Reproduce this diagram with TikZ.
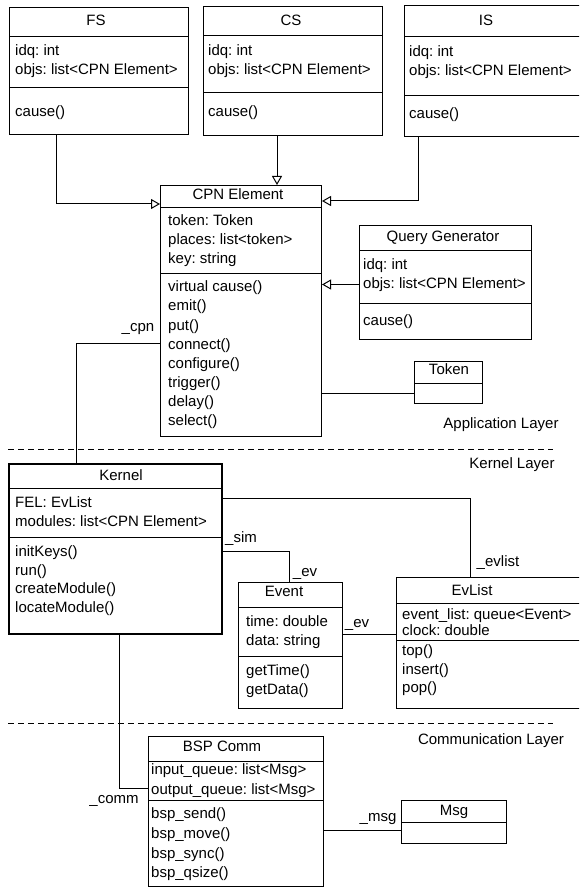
\documentclass[tikz,border=0pt]{standalone}
\usepackage{fontspec}
\setmainfont{Liberation Sans}
\frenchspacing
\usetikzlibrary{arrows.meta}

\begin{document}
\begin{tikzpicture}[
  x=1pt,
  y=-1pt,
  font=\fontsize{15}{19}\selectfont
]

  \tikzstyle{classbox}=[draw,rectangle,line width=1pt,anchor=north west,inner sep=0pt]
  \tikzstyle{kernelbox}=[classbox,line width=2pt]
  \tikzstyle{classname}=[inner sep=0pt,text height=11pt,text depth=3.5pt]
  \tikzstyle{member}=[anchor=west,inner sep=0pt,text height=11pt,text depth=3.5pt]
  \tikzstyle{divider}=[line width=1pt]
  \tikzstyle{assoc}=[draw,line width=1pt]
  \tikzstyle{inherit}=[draw,line width=1pt,-{Triangle[open,length=9pt,width=10pt]}]
  \tikzstyle{rolelab}=[inner sep=0pt,text height=11pt,text depth=3.5pt]
  \tikzstyle{layerline}=[draw,line width=1pt,dash pattern=on 6pt off 4pt]
  \tikzstyle{layerlab}=[inner sep=0pt,text height=11pt,text depth=3.5pt]

  \useasboundingbox (0,0) rectangle (579,890);
  \clip (0,0) rectangle (579,890);

  % FS
  \node[classbox,minimum width=179,minimum height=127] (fs) at (9,7) {};
  \node[classname] (fs-t) at (96,22) {FS};
  \draw[divider] ([yshift=-30pt]fs.north west) -- ([yshift=-30pt]fs.north east);
  \draw[divider] ([yshift=-81pt]fs.north west) -- ([yshift=-81pt]fs.north east);
  \foreach \m [count=\i from 0] in {idq: int, objs: list<CPN Element>}
    \node[member] (fs-a\i) at (15,52+19*\i) {\m};
  \node[member] (fs-m0) at (15,113) {cause()};

  % CS
  \node[classbox,minimum width=179,minimum height=129] (cs) at (203,6) {};
  \node[classname] (cs-t) at (291,22) {CS};
  \draw[divider] ([yshift=-30pt]cs.north west) -- ([yshift=-30pt]cs.north east);
  \draw[divider] ([yshift=-87pt]cs.north west) -- ([yshift=-87pt]cs.north east);
  \foreach \m [count=\i from 0] in {idq: int, objs: list<CPN Element>}
    \node[member] (cs-a\i) at (208,52+19*\i) {\m};
  \node[member] (cs-m0) at (208,113) {cause()};

  % IS
  \node[classbox,minimum width=180,minimum height=131] (is) at (404,5) {};
  \node[classname] (is-t) at (486,22) {IS};
  \draw[divider] ([yshift=-32pt]is.north west) -- ([yshift=-32pt]is.north east);
  \draw[divider] ([yshift=-91pt]is.north west) -- ([yshift=-91pt]is.north east);
  \foreach \m [count=\i from 0] in {idq: int, objs: list<CPN Element>}
    \node[member] (is-a\i) at (409,53+19*\i) {\m};
  \node[member] (is-m0) at (409,115) {cause()};

  % CPN Element
  \node[classbox,minimum width=161,minimum height=251] (cpn) at (160,185) {};
  \node[classname] (cpn-t) at (238,196) {CPN Element};
  \draw[divider] ([yshift=-23pt]cpn.north west) -- ([yshift=-23pt]cpn.north east);
  \draw[divider] ([yshift=-88pt]cpn.north west) -- ([yshift=-88pt]cpn.north east);
  \foreach \m [count=\i from 0] in {token: Token, places: list<token>, key: string}
    \node[member] (cpn-a\i) at (168,222+19*\i) {\m};
  \foreach \m [count=\i from 0] in {virtual cause(), emit(), put(), connect(), configure(), trigger(), delay(), select()}
    \node[member] (cpn-m\i) at (168,288+19.15*\i) {\m};

  % Query Generator
  \node[classbox,minimum width=172,minimum height=114] (qg) at (359,225) {};
  \node[classname] (qg-t) at (443,238) {Query Generator};
  \draw[divider] ([yshift=-26pt]qg.north west) -- ([yshift=-26pt]qg.north east);
  \draw[divider] ([yshift=-78pt]qg.north west) -- ([yshift=-78pt]qg.north east);
  \foreach \m [count=\i from 0] in {idq: int, objs: list<CPN Element>}
    \node[member] (qg-a\i) at (363,266+18.5*\i) {\m};
  \node[member] (qg-m0) at (363,322) {cause()};

  % Token
  \node[classbox,minimum width=68,minimum height=42] (token) at (414,361) {};
  \node[classname] (token-t) at (449,371) {Token};
  \draw[divider] ([yshift=-22pt]token.north west) -- ([yshift=-22pt]token.north east);

  % Kernel
  \node[kernelbox,minimum width=213,minimum height=170] (kernel) at (8,463) {};
  \node[classname] (kernel-t) at (121,477) {Kernel};
  \draw[divider] ([yshift=-25pt]kernel.north west) -- ([yshift=-25pt]kernel.north east);
  \draw[divider] ([yshift=-74pt]kernel.north west) -- ([yshift=-74pt]kernel.north east);
  \foreach \m [count=\i from 0] in {FEL: EvList, modules: list<CPN Element>}
    \node[member] (kernel-a\i) at (15,504+19*\i) {\m};
  \foreach \m [count=\i from 0] in {initKeys(), run(), createModule(), locateModule()}
    \node[member] (kernel-m\i) at (15,553+18.5*\i) {\m};

  % Event
  \node[classbox,minimum width=104,minimum height=126] (event) at (238,582) {};
  \node[classname] (event-t) at (284,593) {Event};
  \draw[divider] ([yshift=-25pt]event.north west) -- ([yshift=-25pt]event.north east);
  \draw[divider] ([yshift=-74pt]event.north west) -- ([yshift=-74pt]event.north east);
  \foreach \m [count=\i from 0] in {time: double, data: string}
    \node[member] (event-a\i) at (246,623+19*\i) {\m};
  \foreach \m [count=\i from 0] in {getTime(), getData()}
    \node[member] (event-m\i) at (246,672+18.5*\i) {\m};

  % EvList
  \node[classbox,minimum width=188,minimum height=131] (evlist) at (396,577) {};
  \node[classname] (evlist-t) at (472,592) {EvList};
  \draw[divider] ([yshift=-26pt]evlist.north west) -- ([yshift=-26pt]evlist.north east);
  \draw[divider] ([yshift=-63pt]evlist.north west) -- ([yshift=-63pt]evlist.north east);
  \foreach \m [count=\i from 0] in {event\_list: queue<Event>, clock: double}
    \node[member] (evlist-a\i) at (402,616+16*\i) {\m};
  \foreach \m [count=\i from 0] in {top(), insert(), pop()}
    \node[member] (evlist-m\i) at (402,652+18.5*\i) {\m};

  % BSP Comm
  \node[classbox,minimum width=175,minimum height=150] (bsp) at (148,736) {};
  \node[classname] (bsp-t) at (222,748) {BSP Comm};
  \draw[divider] ([yshift=-25pt]bsp.north west) -- ([yshift=-25pt]bsp.north east);
  \draw[divider] ([yshift=-64pt]bsp.north west) -- ([yshift=-64pt]bsp.north east);
  \foreach \m [count=\i from 0] in {input\_queue: list<Msg>, output\_queue: list<Msg>}
    \node[member] (bsp-a\i) at (151,771+20*\i) {\m};
  \foreach \m [count=\i from 0] in {bsp\_send(), bsp\_move(), bsp\_sync(), bsp\_qsize()}
    \node[member] (bsp-m\i) at (151,815+19.7*\i) {\m};

  % Msg
  \node[classbox,minimum width=105,minimum height=43] (msg) at (401,800) {};
  \node[classname] (msg-t) at (454,812) {Msg};
  \draw[divider] ([yshift=-22pt]msg.north west) -- ([yshift=-22pt]msg.north east);

  % layers
  \coordinate (app-l) at (8,449);
  \coordinate (app-r) at (553,449);
  \coordinate (com-l) at (8,723);
  \coordinate (com-r) at (553,723);
  \draw[layerline] (app-l) -- (app-r);
  \draw[layerline] (com-l) -- (com-r);
  \node[layerlab] (applab) at (501,425) {Application Layer};
  \node[layerlab] (kerlab) at (512,465) {Kernel Layer};
  \node[layerlab] (comlab) at (491,741) {Communication Layer};

  % generalisations
  \draw[inherit] ([xshift=47pt]fs.south west) |- ([yshift=-19pt]cpn.north west);
  \draw[inherit] ([xshift=74pt]cs.south west) -- ([xshift=117pt]cpn.north west);
  \draw[inherit] ([xshift=14pt]is.south west) |- ([yshift=-16pt]cpn.north east);
  \draw[inherit] ([yshift=-2pt]qg.west) -- ([yshift=-2pt]qg.west -| cpn.east);

  % associations
  \draw[assoc] ([yshift=-11pt]token.west) -- ([yshift=-11pt]token.west -| cpn.east);
  \draw[assoc] ([yshift=-158pt]cpn.north west) -| ([xshift=68pt]kernel.north west);
  \draw[assoc] ([yshift=-35pt]kernel.north east) -| ([xshift=74pt]evlist.north west);
  \draw[assoc] ([yshift=-88pt]kernel.north east) -| ([xshift=51pt]event.north west);
  \draw[assoc] ([yshift=-52pt]event.north east) -- ([yshift=-52pt]event.north east -| evlist.west);
  \draw[assoc] ([xshift=111pt]kernel.south west) |- ([yshift=-52pt]bsp.north west);
  \draw[assoc] ([yshift=-30pt]msg.north west) -- ([yshift=-30pt]msg.north west -| bsp.east);

  % roles
  \node[rolelab] (cpnlab) at (138,328) {\_cpn};
  \node[rolelab] (evlistlab) at (498,563) {\_evlist};
  \node[rolelab] (simlab) at (241,539) {\_sim};
  \node[rolelab] (evlab1) at (305,573) {\_ev};
  \node[rolelab] (evlab2) at (357,624) {\_ev};
  \node[rolelab] (commlab) at (114,800) {\_comm};
  \node[rolelab] (msglab) at (378,818) {\_msg};

\end{tikzpicture}
\end{document}
